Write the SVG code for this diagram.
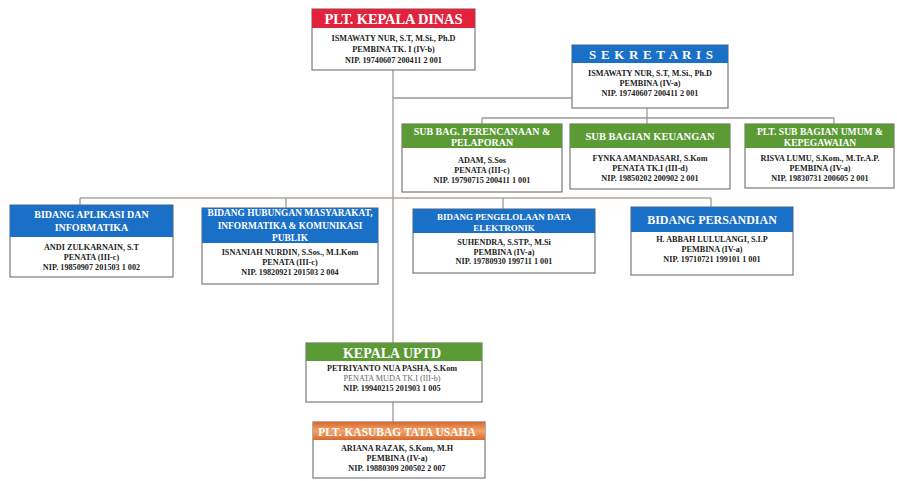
<svg xmlns="http://www.w3.org/2000/svg" width="897" height="481" viewBox="0 0 897 481">
<style>
.box{fill:#fff;stroke:#7a7a7a;stroke-width:1.2}
.h{font-family:"Liberation Serif","Times New Roman",serif;font-weight:bold;fill:#fff;text-anchor:middle}
.b{font-family:"Liberation Serif","Times New Roman",serif;font-weight:bold;fill:#222;text-anchor:middle;font-size:8.2px}
.red{fill:#e2233d}.blue{fill:#1a6fc6}.green{fill:#5c9a36}
.ln{stroke:#9a9a9a;stroke-width:1.3;fill:none}
.lt{stroke:#b3a596;stroke-width:1.5;fill:none}
</style>
<defs>
<linearGradient id="og" x1="0" y1="0" x2="0" y2="1">
<stop offset="0" stop-color="#d9682c"/><stop offset="0.5" stop-color="#f2a56c"/><stop offset="1" stop-color="#d9682c"/>
</linearGradient>
</defs>
<rect width="897" height="481" fill="#fff"/>
<g id="connectors">
<path class="ln" d="M393 70V343M393 402V422M393 98H572M647 108V124"/>
<path class="ln" d="M482 118H834M482 118V124M834 118V124"/>
<path class="lt" d="M80 198H711"/>
<path class="ln" d="M80 198V205M286 198V208M503 198V209M711 198V207"/>
</g>
<g id="kepala-dinas">
<rect class="box" x="312" y="9" width="163" height="61"/>
<rect class="red" x="312" y="9" width="163" height="19"/>
<text class="h" x="393.5" y="23.5" font-size="14.5" textLength="138">PLT. KEPALA DINAS</text>
<text class="b" x="393.5" y="41">ISMAWATY NUR, S.T, M.Si., Ph.D</text>
<text class="b" x="393.5" y="52">PEMBINA TK. I (IV-b)</text>
<text class="b" x="393.5" y="63">NIP. 19740607 200411 2 001</text>
</g>
<g id="sekretaris">
<rect class="box" x="572" y="45" width="156" height="63"/>
<rect class="blue" x="572" y="45" width="156" height="18"/>
<text class="h" x="651" y="59" font-size="13" textLength="124">S E K R E T A R I S</text>
<text class="b" x="650" y="76">ISMAWATY NUR, S.T, M.Si., Ph.D</text>
<text class="b" x="650" y="86">PEMBINA (IV-a)</text>
<text class="b" x="650" y="95.5">NIP. 19740607 200411 2 001</text>
</g>
<g id="subbag-perencanaan">
<rect class="box" x="402" y="124" width="160" height="68"/>
<rect class="green" x="402" y="124" width="160" height="24"/>
<text class="h" x="482" y="134.5" font-size="10">SUB BAG. PERENCANAAN &amp;</text>
<text class="h" x="482" y="145.5" font-size="10">PELAPORAN</text>
<text class="b" x="482" y="163">ADAM, S.Sos</text>
<text class="b" x="482" y="173">PENATA (III-c)</text>
<text class="b" x="482" y="183">NIP. 19790715 200411 1 001</text>
</g>
<g id="subbag-keuangan">
<rect class="box" x="570" y="124" width="160" height="65"/>
<rect class="green" x="570" y="124" width="160" height="24"/>
<text class="h" x="650" y="139.5" font-size="10.5">SUB BAGIAN KEUANGAN</text>
<text class="b" x="650" y="161" font-size="8.8">FYNKA AMANDASARI, S.Kom</text>
<text class="b" x="650" y="171" font-size="8.8">PENATA TK.I (III-d)</text>
<text class="b" x="650" y="181" font-size="8.8">NIP. 19850202 200902 2 001</text>
</g>
<g id="subbag-umum">
<rect class="box" x="745" y="124" width="149" height="64"/>
<rect class="green" x="745" y="124" width="149" height="24"/>
<text class="h" x="820" y="134.5" font-size="9.6">PLT. SUB BAGIAN UMUM &amp;</text>
<text class="h" x="820" y="145.5" font-size="9.6">KEPEGAWAIAN</text>
<text class="b" x="820" y="161">RISVA LUMU, S.Kom., M.Tr.A.P.</text>
<text class="b" x="820" y="171">PEMBINA (IV-a)</text>
<text class="b" x="820" y="181">NIP. 19830731 200605 2 001</text>
</g>
<g id="bidang-aplikasi">
<rect class="box" x="10" y="205" width="163" height="72"/>
<rect class="blue" x="10" y="205" width="163" height="32"/>
<text class="h" x="91.5" y="218" font-size="10">BIDANG APLIKASI DAN</text>
<text class="h" x="91.5" y="231" font-size="10">INFORMATIKA</text>
<text class="b" x="91.5" y="249.5">ANDI ZULKARNAIN, S.T</text>
<text class="b" x="91.5" y="259.5">PENATA (III-c)</text>
<text class="b" x="91.5" y="270">NIP. 19850907 201503 1 002</text>
</g>
<g id="bidang-humas">
<rect class="box" x="202" y="208" width="176" height="76"/>
<rect class="blue" x="202" y="208" width="176" height="35"/>
<text class="h" x="290" y="216" font-size="9.4">BIDANG HUBUNGAN MASYARAKAT,</text>
<text class="h" x="290" y="228.5" font-size="9.4">INFORMATIKA &amp; KOMUNIKASI</text>
<text class="h" x="290" y="240.5" font-size="9.4">PUBLIK</text>
<text class="b" x="290" y="255">ISNANIAH NURDIN, S.Sos., M.I.Kom</text>
<text class="b" x="290" y="265">PENATA (III-c)</text>
<text class="b" x="290" y="275">NIP. 19820921 201503 2 004</text>
</g>
<g id="bidang-data">
<rect class="box" x="413" y="209" width="182" height="64"/>
<rect class="blue" x="413" y="209" width="182" height="24"/>
<text class="h" x="504" y="219.5" font-size="9">BIDANG PENGELOLAAN DATA</text>
<text class="h" x="504" y="230.5" font-size="9">ELEKTRONIK</text>
<text class="b" x="504" y="245">SUHENDRA, S.STP., M.Si</text>
<text class="b" x="504" y="254.5">PEMBINA (IV-a)</text>
<text class="b" x="504" y="264">NIP. 19780930 199711 1 001</text>
</g>
<g id="bidang-persandian">
<rect class="box" x="631" y="207" width="162" height="68"/>
<rect class="blue" x="631" y="207" width="162" height="25"/>
<text class="h" x="712" y="224" font-size="12">BIDANG PERSANDIAN</text>
<text class="b" x="712" y="242">H. ABBAH LULULANGI, S.I.P</text>
<text class="b" x="712" y="252">PEMBINA (IV-a)</text>
<text class="b" x="712" y="262">NIP. 19710721 199101 1 001</text>
</g>
<g id="kepala-uptd">
<rect class="box" x="306" y="343" width="176" height="59"/>
<rect class="green" x="306" y="343" width="176" height="18"/>
<text class="h" x="392" y="357.5" font-size="14">KEPALA UPTD</text>
<text class="b" x="392" y="371">PETRIYANTO NUA PASHA, S.Kom</text>
<text class="b" x="392" y="381" style="font-weight:normal;fill:#666">PENATA MUDA TK.I (III-b)</text>
<text class="b" x="392" y="391">NIP. 19940215 201903 1 005</text>
</g>
<g id="kasubag-tu">
<rect class="box" x="313" y="422" width="172" height="56"/>
<rect x="313" y="422" width="172" height="18" fill="url(#og)"/>
<text class="h" x="397" y="435.5" font-size="11.5">PLT. KASUBAG TATA USAHA</text>
<text class="b" x="397" y="451">ARIANA RAZAK, S.Kom, M.H</text>
<text class="b" x="397" y="461">PEMBINA (IV-a)</text>
<text class="b" x="397" y="471">NIP. 19880309 200502 2 007</text>
</g>
</svg>
